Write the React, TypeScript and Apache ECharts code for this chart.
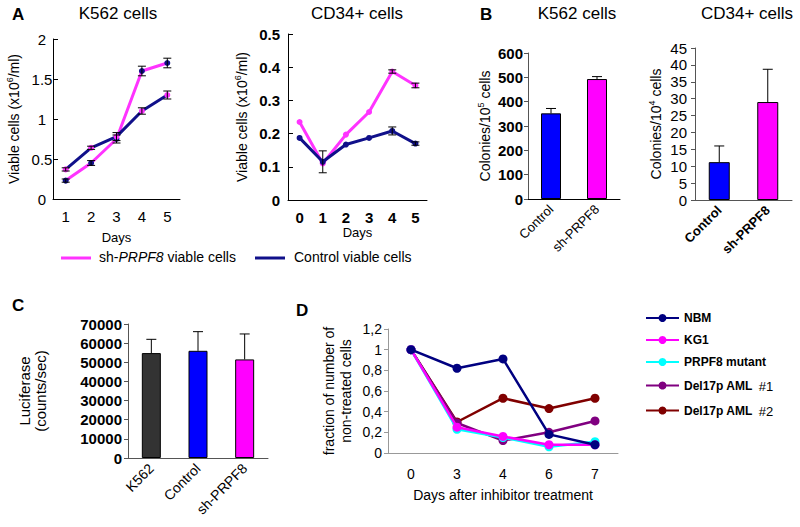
import React, { useEffect, useRef } from "react";
import * as echarts from "echarts";

// ---- Panel A data ----
const aK562Days = ["1", "2", "3", "4", "5"];
const aK562Sh = [0.23, 0.45, 0.75, 1.6, 1.7];
const aK562ShErr = [0.02, 0.03, 0.05, 0.06, 0.06];
const aK562Ctrl = [0.37, 0.64, 0.78, 1.1, 1.3];
const aK562CtrlErr = [0.02, 0.02, 0.05, 0.04, 0.05];

const aCD34Days = ["0", "1", "2", "3", "4", "5"];
const aCD34Sh = [0.235, 0.11, 0.197, 0.265, 0.387, 0.345];
const aCD34ShErr = [0, 0, 0, 0, 0.005, 0.007];
const aCD34Ctrl = [0.187, 0.115, 0.167, 0.187, 0.208, 0.17];
const aCD34CtrlErr = [0, 0.033, 0, 0, 0.012, 0.005];

// ---- Panel B data ----
const bCats = ["Control", "sh-PRPF8"];
const bK562 = [352, 493];
const bK562Err = [20, 10];
const bCD34 = [11.2, 29];
const bCD34Err = [4.8, 9.7];

// ---- Panel C data ----
const cCats = ["K562", "Control", "sh-PRPF8"];
const cLuc = [54800, 56000, 51500];
const cLucErr = [7200, 10000, 13300];

// ---- Panel D data ----
const dDays = ["0", "3", "4", "6", "7"];
const dNames = ["NBM", "KG1", "PRPF8 mutant", "Del17p AML #1", "Del17p AML #2"];
const dNBM = [1, 0.82, 0.91, 0.18, 0.08];
const dKG1 = [1, 0.25, 0.16, 0.08, 0.08];
const dPRPF8 = [1, 0.23, 0.15, 0.06, 0.11];
const dDel1 = [1, 0.29, 0.12, 0.2, 0.31];
const dDel2 = [1, 0.3, 0.53, 0.43, 0.53];
const dColors = ["#000080", "#ff00ff", "#00ffff", "#800080", "#800000"];

const PINK = "#ff33ff";
const NAVY = "#10108a";
const FONT = "Liberation Sans, Arial, sans-serif";

function errRender(both: boolean, cap: number) {
  return (params: any, api: any) => {
    const i = api.value(0);
    const lo = api.coord([i, api.value(1)]);
    const hi = api.coord([i, api.value(2)]);
    const style = { stroke: "#000", lineWidth: 1 };
    const children: any[] = [
      { type: "line", shape: { x1: lo[0], y1: lo[1], x2: hi[0], y2: hi[1] }, style },
      { type: "line", shape: { x1: hi[0] - cap, y1: hi[1], x2: hi[0] + cap, y2: hi[1] }, style },
    ];
    if (both) {
      children.push({ type: "line", shape: { x1: lo[0] - cap, y1: lo[1], x2: lo[0] + cap, y2: lo[1] }, style });
    }
    return { type: "group", children };
  };
}

function lineErr(vals: number[], errs: number[]) {
  return vals.map((v, i) => [i, v - errs[i], v + errs[i]]).filter((_, i) => errs[i] > 0);
}
function barErr(vals: number[], errs: number[]) {
  return vals.map((v, i) => [i, v, v + errs[i]]);
}

export default function App() {
  const ref = useRef<HTMLDivElement>(null);
  useEffect(() => {
    document.body.style.margin = "0";
    const chart = echarts.init(ref.current!, null, { renderer: "svg" });
    const axisLine = { lineStyle: { color: "#000", width: 1 } };
    const lbl = (size: number, bold = false) => ({ color: "#000", fontSize: size, fontFamily: FONT, fontWeight: bold ? "bold" : "normal" });
    const sup = {
      a: { fontSize: 14, fontFamily: FONT, color: "#000" },
      s: { fontSize: 9, fontFamily: FONT, color: "#000", padding: [0, 0, 8, 0] },
    };

    const option: any = {
      animation: false,
      backgroundColor: "#fff",
      grid: [
        { left: 53, top: 39, width: 127, height: 160 },
        { left: 288, top: 34, width: 139, height: 166 },
        { left: 528, top: 53, width: 92, height: 146 },
        { left: 695, top: 48, width: 97, height: 152 },
        { left: 128, top: 324, width: 140, height: 134 },
        { left: 388, top: 329, width: 230, height: 124 },
      ],
      xAxis: [
        {
          gridIndex: 0, type: "category", data: aK562Days, boundaryGap: true,
          axisLine, axisTick: { length: 5, lineStyle: { color: "#000" } },
          axisLabel: { ...lbl(15), margin: 10 },
          name: "Days", nameLocation: "middle", nameGap: 32, nameTextStyle: lbl(13),
        },
        {
          gridIndex: 1, type: "category", data: aCD34Days, boundaryGap: true,
          axisLine, axisTick: { length: 5, lineStyle: { color: "#000" } },
          axisLabel: { ...lbl(15, true), margin: 10 },
          name: "Days", nameLocation: "middle", nameGap: 22, nameTextStyle: lbl(13),
        },
        {
          gridIndex: 2, type: "category", data: bCats, axisLine, axisTick: { show: false },
          axisLabel: { ...lbl(13), rotate: 45, margin: 8 },
        },
        {
          gridIndex: 3, type: "category", data: bCats, axisLine: { lineStyle: { color: "#555" } }, axisTick: { show: false },
          axisLabel: { ...lbl(13, true), rotate: 45, margin: 8 },
        },
        {
          gridIndex: 4, type: "category", data: cCats, axisLine: { lineStyle: { color: "#555" } },
          axisTick: { length: 5, lineStyle: { color: "#555" } },
          axisLabel: { ...lbl(14), rotate: 45, margin: 8 },
        },
        {
          gridIndex: 5, type: "category", data: dDays, axisLine: { lineStyle: { color: "#999" } },
          axisTick: { length: 5, lineStyle: { color: "#999" } },
          axisLabel: { ...lbl(14), margin: 14 },
          name: "Days after inhibitor treatment", nameLocation: "middle", nameGap: 35, nameTextStyle: lbl(14),
        },
      ],
      yAxis: [
        {
          gridIndex: 0, type: "value", min: 0, max: 2, interval: 0.5, splitLine: { show: false },
          axisLine: { show: true, ...axisLine }, axisTick: { show: true, inside: true, length: 5, lineStyle: { color: "#000" } },
          axisLabel: { ...lbl(15), margin: 11, align: "center" },
          name: "{a|Viable cells (x10}{s|6}{a|/ml)}", nameLocation: "middle", nameGap: 31, nameRotate: 90,
          nameTextStyle: { rich: sup },
        },
        {
          gridIndex: 1, type: "value", min: 0, max: 0.5, interval: 0.1, splitLine: { show: false },
          axisLine: { show: true, ...axisLine }, axisTick: { show: true, inside: true, length: 5, lineStyle: { color: "#000" } },
          axisLabel: { ...lbl(15, true), margin: 8 },
          name: "{a|Viable cells (x10}{s|6}{a|/ml)}", nameLocation: "middle", nameGap: 38, nameRotate: 90,
          nameTextStyle: { rich: sup },
        },
        {
          gridIndex: 2, type: "value", min: 0, max: 600, interval: 100, splitLine: { show: false },
          axisLine: { show: true, lineStyle: { color: "#555" } }, axisTick: { show: true, length: 4, lineStyle: { color: "#555" } },
          axisLabel: { ...lbl(15, true), margin: 5 },
          name: "{a|Colonies/10}{s|5}{a| cells}", nameLocation: "middle", nameGap: 35, nameRotate: 90,
          nameTextStyle: { rich: sup },
        },
        {
          gridIndex: 3, type: "value", min: 0, max: 45, interval: 5, splitLine: { show: false },
          axisLine: { show: true, lineStyle: { color: "#555" } }, axisTick: { show: true, length: 4, lineStyle: { color: "#555" } },
          axisLabel: { ...lbl(15), margin: 8 },
          name: "{a|Colonies/10}{s|4}{a| cells}", nameLocation: "middle", nameGap: 31, nameRotate: 90,
          nameTextStyle: { rich: sup },
        },
        {
          gridIndex: 4, type: "value", min: 0, max: 70000, interval: 10000, splitLine: { show: false },
          axisLine: { show: true, lineStyle: { color: "#555" } }, axisTick: { show: true, length: 4, lineStyle: { color: "#555" } },
          axisLabel: { ...lbl(15, true), margin: 6, formatter: (v: number) => String(v) },
          name: "Luciferase\n(counts/sec)", nameLocation: "middle", nameGap: 80, nameRotate: 90,
          nameTextStyle: { ...lbl(15), lineHeight: 16 },
        },
        {
          gridIndex: 5, type: "value", min: 0, max: 1.2, interval: 0.2, splitLine: { show: false },
          axisLine: { show: true, lineStyle: { color: "#999" } }, axisTick: { show: true, length: 4, lineStyle: { color: "#999" } },
          axisLabel: { ...lbl(14), margin: 6, formatter: (v: number) => String(Math.round(v * 10) / 10).replace(".", ",") },
          name: "fraction of number of\nnon-treated cells", nameLocation: "middle", nameGap: 34, nameRotate: 90,
          nameTextStyle: { ...lbl(14), lineHeight: 17 },
        },
      ],
      legend: {
        orient: "vertical", left: 640, top: 307, itemWidth: 33, itemHeight: 10, itemGap: 10,
        data: dNames,
        textStyle: {
          rich: {
            b: { fontSize: 12, fontWeight: "bold", fontFamily: FONT, color: "#000", lineHeight: 14 },
            n: { fontSize: 13, fontFamily: FONT, color: "#000", lineHeight: 14, padding: [2, 0, 0, 6] },
          },
        },
        formatter: (name: string) => {
          const m = name.match(/^(.*) (#\d)$/);
          return m ? `{b|${m[1]}}{n|${m[2]}}` : `{b|${name}}`;
        },
      },
      series: [
        // A K562
        {
          type: "line", name: "shK562", xAxisIndex: 0, yAxisIndex: 0, data: aK562Sh,
          symbol: "circle", symbolSize: 6, lineStyle: { color: PINK, width: 3 }, itemStyle: { color: NAVY },
        },
        {
          type: "line", name: "ctrlK562", xAxisIndex: 0, yAxisIndex: 0, data: aK562Ctrl,
          symbol: "circle", symbolSize: 6, lineStyle: { color: NAVY, width: 3 }, itemStyle: { color: PINK },
        },
        { type: "custom", xAxisIndex: 0, yAxisIndex: 0, data: lineErr(aK562Sh, aK562ShErr), renderItem: errRender(true, 4), z: 5 },
        { type: "custom", xAxisIndex: 0, yAxisIndex: 0, data: lineErr(aK562Ctrl, aK562CtrlErr), renderItem: errRender(true, 4), z: 5 },
        // A CD34
        {
          type: "line", name: "shCD34", xAxisIndex: 1, yAxisIndex: 1, data: aCD34Sh,
          symbol: "circle", symbolSize: 6, lineStyle: { color: PINK, width: 3 }, itemStyle: { color: PINK },
        },
        {
          type: "line", name: "ctrlCD34", xAxisIndex: 1, yAxisIndex: 1, data: aCD34Ctrl,
          symbol: "circle", symbolSize: 6, lineStyle: { color: NAVY, width: 3 }, itemStyle: { color: NAVY },
        },
        { type: "custom", xAxisIndex: 1, yAxisIndex: 1, data: lineErr(aCD34Sh, aCD34ShErr), renderItem: errRender(true, 4), z: 5 },
        { type: "custom", xAxisIndex: 1, yAxisIndex: 1, data: lineErr(aCD34Ctrl, aCD34CtrlErr), renderItem: errRender(true, 4), z: 5 },
        // B
        {
          type: "bar", xAxisIndex: 2, yAxisIndex: 2, barWidth: 20,
          data: bK562.map((v, i) => ({ value: v, itemStyle: { color: i === 0 ? "#0000ff" : "#ff00ff", borderColor: "#000", borderWidth: 1 } })),
        },
        { type: "custom", xAxisIndex: 2, yAxisIndex: 2, data: barErr(bK562, bK562Err), renderItem: errRender(false, 5), z: 5 },
        {
          type: "bar", xAxisIndex: 3, yAxisIndex: 3, barWidth: 21,
          data: bCD34.map((v, i) => ({ value: v, itemStyle: { color: i === 0 ? "#0000ff" : "#ff00ff", borderColor: "#000", borderWidth: 1 } })),
        },
        { type: "custom", xAxisIndex: 3, yAxisIndex: 3, data: barErr(bCD34, bCD34Err), renderItem: errRender(false, 5), z: 5 },
        // C
        {
          type: "bar", xAxisIndex: 4, yAxisIndex: 4, barWidth: 19,
          data: cLuc.map((v, i) => ({ value: v, itemStyle: { color: ["#333333", "#0000ff", "#ff00ff"][i], borderColor: "#000", borderWidth: 1 } })),
        },
        { type: "custom", xAxisIndex: 4, yAxisIndex: 4, data: barErr(cLuc, cLucErr), renderItem: errRender(false, 5), z: 5 },
        // D
        ...[dNBM, dKG1, dPRPF8, dDel1, dDel2].map((d, i) => ({
          type: "line", name: dNames[i], xAxisIndex: 5, yAxisIndex: 5, data: d,
          symbol: "circle", symbolSize: 9, lineStyle: { color: dColors[i], width: 2.5 }, itemStyle: { color: dColors[i] },
          z: 2 + (4 - i),
        })),
      ],
      graphic: [
        { type: "text", x: 12, y: 6, style: { text: "A", font: `bold 17px ${FONT}`, fill: "#000" } },
        { type: "text", x: 118, y: 5, style: { text: "K562 cells", font: `17px ${FONT}`, fill: "#000", textAlign: "center" } },
        { type: "text", x: 357, y: 5, style: { text: "CD34+ cells", font: `17px ${FONT}`, fill: "#000", textAlign: "center" } },
        { type: "text", x: 480, y: 6, style: { text: "B", font: `bold 17px ${FONT}`, fill: "#000" } },
        { type: "text", x: 577, y: 5, style: { text: "K562 cells", font: `17px ${FONT}`, fill: "#000", textAlign: "center" } },
        { type: "text", x: 747, y: 5, style: { text: "CD34+ cells", font: `17px ${FONT}`, fill: "#000", textAlign: "center" } },
        { type: "text", x: 12, y: 297, style: { text: "C", font: `bold 17px ${FONT}`, fill: "#000" } },
        { type: "text", x: 296, y: 302, style: { text: "D", font: `bold 17px ${FONT}`, fill: "#000" } },
        // Panel A legend
        { type: "line", shape: { x1: 61, y1: 258, x2: 91, y2: 258 }, style: { stroke: PINK, lineWidth: 3 } },
        {
          type: "text", x: 99, y: 250,
          style: {
            text: "{a|sh-}{i|PRPF8}{a| viable cells}",
            rich: {
              a: { fontSize: 14, fontFamily: FONT, fill: "#000" },
              i: { fontSize: 14, fontFamily: FONT, fontStyle: "italic", fill: "#000" },
            },
          },
        },
        { type: "line", shape: { x1: 255, y1: 258, x2: 285, y2: 258 }, style: { stroke: NAVY, lineWidth: 3 } },
        { type: "text", x: 294, y: 250, style: { text: "Control viable cells", font: `14px ${FONT}`, fill: "#000" } },
      ],
    };
    chart.setOption(option);
    return () => chart.dispose();
  }, []);
  return <div ref={ref} style={{ width: 800, height: 527 }} />;
}
